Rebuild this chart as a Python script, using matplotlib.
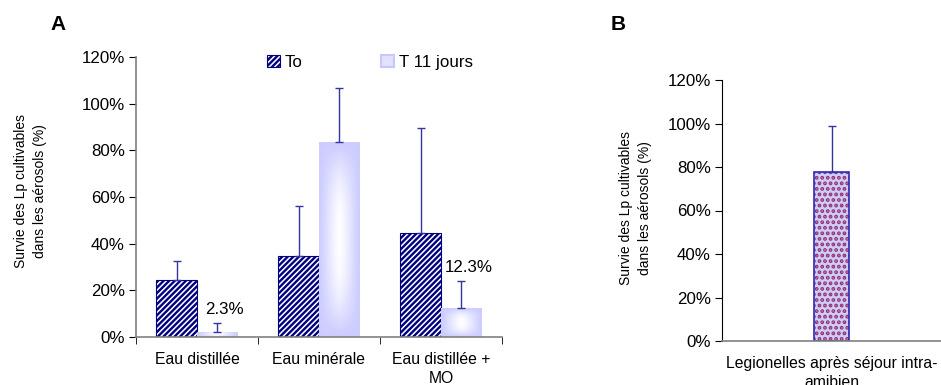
import numpy as np
import matplotlib.pyplot as plt
from matplotlib.patches import Patch
from matplotlib.colors import to_rgb

plt.rcParams['font.family'] = ['Liberation Sans', 'DejaVu Sans']
plt.rcParams['hatch.linewidth'] = 1.7

# panel A data
categories = ['Eau distillée', 'Eau minérale', 'Eau distillée +\nMO']
to_vals = [0.245, 0.347, 0.445]
to_err = [0.08, 0.215, 0.45]
t11_vals = [0.023, 0.835, 0.123]
t11_err = [0.037, 0.232, 0.117]
t11_labels = ['2.3%', None, '12.3%']

# panel B data
b_categories = ['Legionelles après séjour intra-\namibien']
b_vals = [0.777]
b_err = [0.212]

yticks = [0, 0.2, 0.4, 0.6, 0.8, 1.0, 1.2]
ylabel = 'Survie des Lp cultivables\ndans les aérosols (%)'

navy = '#000080'
lavender = '#ccccff'
errcol = '#3535a0'
fs = 12.2
fs_cat = 11.3


def gradient_fill(ax, bar):
    # white glow in the middle of a lavender bar, clipped to the bar
    x0, y0 = bar.get_x(), bar.get_y()
    w, h = bar.get_width(), bar.get_height()
    u = np.linspace(-1, 1, 60)
    v = np.linspace(-1, 1, 120)
    U, V = np.meshgrid(u, v)
    wgt = (1 - np.abs(U) ** 1.3) * (1 - np.abs(V) ** 2.5)
    wgt = np.clip(wgt, 0, 1) ** 1.2
    base = np.array(to_rgb(lavender))
    img = base[None, None, :] * (1 - wgt[..., None]) + wgt[..., None]
    im = ax.imshow(img, extent=(x0, x0 + w, y0, y0 + h), aspect='auto',
                   origin='lower', zorder=bar.get_zorder() + 0.1)
    im.set_clip_path(bar)


fig = plt.figure(figsize=(9.41, 3.85), dpi=100)

# ---- panel A ----
axA = fig.add_axes([136 / 941, 48 / 385, 366 / 941, 280 / 385])
x = np.arange(len(categories))
bw = 0.336
bars_to = axA.bar(x - bw / 2, to_vals, bw, facecolor='white', edgecolor=navy,
                  hatch='//////', linewidth=0.8, zorder=2)
axA.errorbar(x - bw / 2, to_vals, yerr=[np.zeros(3), to_err], fmt='none',
             ecolor=errcol, elinewidth=1, capsize=3, capthick=1, zorder=3)
bars_t11 = axA.bar(x + bw / 2, t11_vals, bw, facecolor=lavender,
                   edgecolor='none', zorder=2)
for b in bars_t11:
    gradient_fill(axA, b)
axA.errorbar(x + bw / 2, t11_vals, yerr=[np.zeros(3), t11_err], fmt='none',
             ecolor=errcol, elinewidth=1, capsize=3, capthick=1, zorder=3)
for xi, v, e, lab in zip(x, t11_vals, t11_err, t11_labels):
    if lab:
        axA.text(xi + bw / 2 + 0.06, v + e + 0.06, lab, ha='center',
                 va='center', fontsize=fs, zorder=4)

axA.set_xlim(-0.5, len(categories) - 0.5)
axA.set_ylim(0, 1.2)
axA.set_yticks(yticks)
axA.set_yticklabels(['{:.0f}%'.format(t * 100) for t in yticks], fontsize=fs)
axA.set_xticks(x)
axA.set_xticklabels(categories, fontsize=fs_cat, linespacing=1.3)
axA.set_xticks(np.arange(len(categories) + 1) - 0.5, minor=True)
axA.tick_params(axis='x', which='major', length=0, pad=11)
axA.tick_params(axis='x', which='minor', length=5, direction='out')
axA.tick_params(axis='y', length=5, direction='out', pad=3)
for s in ['top', 'right']:
    axA.spines[s].set_visible(False)
for s in ['left', 'bottom']:
    axA.spines[s].set_color('#808080')
    axA.spines[s].set_linewidth(1.2)
axA.set_ylabel(ylabel, fontsize=10, linespacing=1.45)
axA.yaxis.label.set_va('center')
axA.yaxis.set_label_coords(-0.287, 0.52)

handles = [Patch(facecolor='white', edgecolor=navy, hatch='//////', linewidth=0.8),
           Patch(facecolor='#e2e2ff', edgecolor='#c8c8f8', linewidth=1.5)]
axA.legend(handles, ['To', 'T 11 jours'], ncol=2, frameon=False, fontsize=fs,
           loc='center left', bbox_to_anchor=(0.34, 0.98),
           handlelength=0.75, handleheight=0.75, handletextpad=0.3,
           columnspacing=4.6, borderaxespad=0)

fig.text(58 / 941, 1 - 25 / 385, 'A', fontsize=15, fontweight='bold',
         ha='center', va='center')

# ---- panel B ----
axB = fig.add_axes([722 / 941, 44 / 385, 219 / 941, 261 / 385])
xb = np.arange(len(b_categories))
bwb = 0.164
with plt.rc_context({'hatch.linewidth': 1.9}):
    dots = axB.bar(xb, b_vals, bwb, facecolor=lavender, edgecolor='#993366',
                   hatch='...', linewidth=0, zorder=2)
for p in dots:
    if hasattr(p, 'set_hatch_linewidth'):
        p.set_hatch_linewidth(1.9)
axB.bar(xb, b_vals, bwb, facecolor='none', edgecolor='#2b2bb8',
        linewidth=1.2, zorder=2.5)
axB.errorbar(xb, b_vals, yerr=[np.zeros(1), b_err], fmt='none',
             ecolor=errcol, elinewidth=1, capsize=3, capthick=1, zorder=3)
axB.set_xlim(-0.5, 0.5)
axB.set_ylim(0, 1.2)
axB.set_yticks(yticks)
axB.set_yticklabels(['{:.0f}%'.format(t * 100) for t in yticks], fontsize=fs)
axB.set_xticks(xb)
axB.set_xticklabels(b_categories, fontsize=fs_cat, linespacing=1.3)
axB.tick_params(axis='x', length=0, pad=11)
axB.tick_params(axis='y', length=5, direction='out', pad=3)
for s in ['top', 'right']:
    axB.spines[s].set_visible(False)
axB.spines['left'].set_color('black')
axB.spines['bottom'].set_color('#808080')
axB.spines['bottom'].set_linewidth(1.2)
axB.set_ylabel(ylabel, fontsize=10, linespacing=1.45)
axB.yaxis.label.set_va('center')
axB.yaxis.set_label_coords(-0.393, 0.51)

fig.text(618 / 941, 1 - 25 / 385, 'B', fontsize=15, fontweight='bold',
         ha='center', va='center')

fig.savefig('out.png', dpi=100)
